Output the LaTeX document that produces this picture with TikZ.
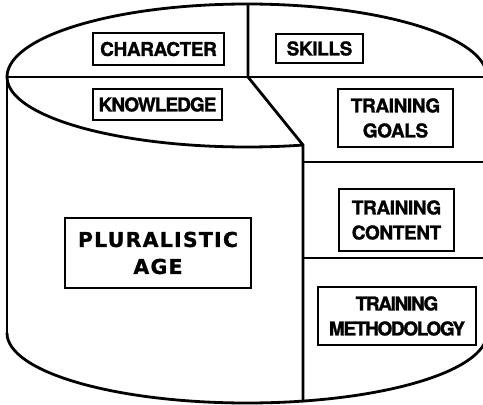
\documentclass[tikz,border=0pt]{standalone}
\usepackage{fontspec}
\setmainfont{TeX Gyre Heros}[BoldFeatures={FakeBold=1.3}]
\newfontfamily\widefont{DejaVu Sans}[LetterSpace=6,BoldFeatures={FakeBold=1}]
\newfontfamily\tightfont{TeX Gyre Heros}[LetterSpace=-7,BoldFeatures={FakeBold=1.3}]
\newfontfamily\semitight{TeX Gyre Heros}[LetterSpace=-5,BoldFeatures={FakeBold=1.3}]
\newfontfamily\slighttight{TeX Gyre Heros}[LetterSpace=-2,BoldFeatures={FakeBold=1.3}]
\begin{document}
\begin{tikzpicture}[x=1pt,y=1pt,
  outline/.style={line width=2.8pt,line cap=round,line join=round},
  divider/.style={line width=1.6pt},
  lbl/.style={draw,line width=1.9pt,inner sep=0pt,align=center,
    font=\slighttight\bfseries\fontsize{19}{25}\selectfont},
  tightlbl/.style={lbl,font=\tightfont\bfseries\fontsize{19}{25}\selectfont},
  semilbl/.style={lbl,font=\semitight\bfseries\fontsize{19}{25}\selectfont},
  widelbl/.style={lbl,font=\widefont\bfseries\fontsize{20.5}{27}\selectfont}]
\useasboundingbox (0,0) rectangle (483,405);
\begin{scope}
\clip (0,0) rectangle (483,405);
\coordinate (L) at (7,328);
\coordinate (T) at (248,401);
\coordinate (M) at (248,328);
\coordinate (D) at (303,260);
\coordinate (B) at (303,4);
\coordinate (BL) at (7,72);
\coordinate (R1) at (490,328);
\coordinate (A1) at (303,243);
\coordinate (A2) at (490,243);
\coordinate (C1) at (303,147);
\coordinate (C2) at (490,147);
\draw[outline] (L) arc[start angle=180,end angle=0,x radius=240,y radius=73];
\draw[outline] (L) arc[start angle=180,end angle=283.5,x radius=240,y radius=70];
\draw[outline] (L) -- (BL);
\draw[outline] (BL) arc[start angle=180,end angle=360,x radius=240,y radius=70];
\draw[line width=2.2pt] (L) -- (R1);
\draw[outline] (T) -- (M) -- (D) -- (B);
\draw[divider] (A1) -- (A2);
\draw[divider] (C1) -- (C2);
\end{scope}
\node[lbl,minimum width=131pt,minimum height=32pt] (ch) at (158.5,356) {CHARACTER};
\node[lbl,minimum width=87pt,minimum height=29pt] (sk) at (319.5,356.5) {SKILLS};
\node[semilbl,minimum width=129pt,minimum height=31pt] (kn) at (157.5,300.5) {KNOWLEDGE};
\node[lbl,minimum width=115pt,minimum height=58pt] (go) at (395.5,287) {TRAINING\\GOALS};
\node[lbl,minimum width=115pt,minimum height=62pt] (co) at (396.5,185) {TRAINING\\CONTENT};
\node[tightlbl,minimum width=158pt,minimum height=58pt] (me) at (397,89) {TRAINING\\METHODOLOGY};
\node[widelbl,minimum width=186pt,minimum height=70pt] (pl) at (158,152) {PLURALISTIC\\AGE};
\end{tikzpicture}
\end{document}
